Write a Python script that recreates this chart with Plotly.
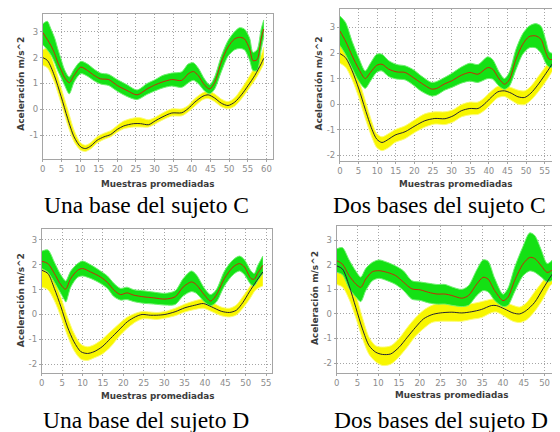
import plotly.graph_objects as go

# ---------------- data ----------------
captions = ["Una base del sujeto C", "Dos bases del sujeto C",
            "Una base del sujeto D", "Dos bases del sujeto D"]
x_title = "Muestras promediadas"
y_title = "Aceleración m/s^2"

# Panel 1: Una base del sujeto C
p1_gx = [0, 1.2, 2.2, 3.2, 4, 5, 5.8, 7.1, 8.4, 10.2, 12, 13.8, 15.5, 17.7, 20, 22.6, 25.3, 28, 30.2, 32,
         34.6, 37.3, 39, 40.4, 41.7, 43.5, 44.8, 46.1, 47.9, 49.7, 51.5, 52.8, 54.1, 55.5, 56.4, 57.5, 58.6, 59.3]
p1_g_mean = [2.97, 2.7, 2.46, 2.15, 1.82, 1.5, 1.24, 1.03, 1.31, 1.63, 1.5, 1.31, 1.18, 1.15, 0.92, 0.73, 0.56, 0.79,
             0.95, 1.05, 1.15, 1.12, 1.37, 1.46, 1.31, 0.92, 0.79, 1.03, 1.82, 2.4, 2.72, 2.78, 2.72, 2.33, 1.88,
             1.92, 2.72, 3.1]
p1_g_hi = [3.3, 3.4, 3.1, 2.75, 2.35, 1.9, 1.55, 1.25, 1.55, 1.85, 1.75, 1.55, 1.4, 1.35, 1.15, 0.95, 0.75, 1.0,
           1.15, 1.3, 1.4, 1.45, 1.75, 1.8, 1.6, 1.15, 0.95, 1.25, 2.05, 2.65, 3.0, 3.15, 3.1, 2.75, 2.2, 2.3,
           3.1, 3.45]
p1_g_lo = [2.5, 2.3, 2.1, 1.8, 1.5, 1.2, 0.95, 0.6, 1.05, 1.38, 1.28, 1.1, 0.98, 0.92, 0.7, 0.5, 0.38, 0.58, 0.72,
           0.82, 0.9, 0.85, 1.02, 1.12, 1.0, 0.7, 0.6, 0.78, 1.45, 2.05, 2.3, 2.35, 2.3, 1.9, 1.5, 1.5, 2.3, 2.8]
p1_yx = [0, 1.3, 3.1, 4.9, 6.7, 8.4, 10.2, 11.5, 12.9, 14.6, 16.4, 18.2, 20, 21.7, 24.4, 26.2, 28.4, 30.2, 32,
         34.6, 37.3, 39, 40.8, 43, 44.4, 46.1, 47.9, 49.7, 51.5, 53.3, 55.1, 56.9, 58.6, 59.3]
p1_y_mean = [2.0, 1.88, 1.31, 0.51, -0.36, -1.06, -1.45, -1.51, -1.41, -1.19, -1.06, -0.97, -0.77, -0.64, -0.55,
             -0.55, -0.59, -0.44, -0.3, -0.14, -0.13, 0.03, 0.28, 0.51, 0.56, 0.44, 0.24, 0.15, 0.28, 0.56, 0.92,
             1.31, 1.76, 1.97]
p1_y_hi = [2.3, 2.35, 1.7, 0.85, 0.0, -0.8, -1.3, -1.38, -1.28, -1.05, -0.92, -0.82, -0.62, -0.45, -0.33, -0.32,
           -0.4, -0.3, -0.15, 0.02, 0.02, 0.15, 0.42, 0.65, 0.72, 0.6, 0.4, 0.3, 0.45, 0.8, 1.2, 1.65, 2.1, 2.4]
p1_y_lo = [1.7, 1.6, 1.05, 0.25, -0.6, -1.25, -1.58, -1.62, -1.52, -1.3, -1.16, -1.06, -0.88, -0.75, -0.68, -0.68,
           -0.68, -0.56, -0.42, -0.26, -0.25, -0.1, 0.12, 0.38, 0.42, 0.3, 0.1, 0.02, 0.12, 0.4, 0.75, 1.12, 1.55,
           1.75]

# Panel 2: Dos bases del sujeto C
p2_gx = [0, 1.5, 3.3, 5.1, 6.8, 8.2, 9.9, 11.3, 13.1, 15.3, 17.5, 19.7, 21.9, 24.6, 25.9, 28.2, 30, 32.6, 34.9,
         37.1, 39.7, 41, 42.8, 44.2, 45.5, 47.3, 49.1, 50.8, 52.6, 54, 55.3, 56.2, 57.1, 58.4, 59.3]
p2_g_mean = [2.86, 2.47, 1.89, 1.37, 1.0, 1.24, 1.52, 1.56, 1.37, 1.26, 1.24, 1.04, 0.82, 0.59, 0.61, 0.8, 0.91,
             1.13, 1.24, 1.17, 1.43, 1.37, 0.98, 0.78, 0.95, 1.76, 2.34, 2.64, 2.67, 2.54, 2.02, 1.76, 1.76, 2.67,
             3.1]
p2_g_hi = [3.45, 3.2, 2.45, 1.8, 1.3, 1.6, 1.95, 1.95, 1.7, 1.55, 1.5, 1.35, 1.1, 0.85, 0.88, 1.05, 1.2, 1.45, 1.6,
           1.55, 1.85, 1.75, 1.25, 1.0, 1.25, 2.15, 2.75, 3.05, 3.15, 3.05, 2.5, 2.05, 2.0, 3.0, 3.45]
p2_g_lo = [2.3, 1.95, 1.4, 0.9, 0.62, 0.9, 1.25, 1.3, 1.08, 0.98, 0.95, 0.75, 0.5, 0.32, 0.35, 0.55, 0.65, 0.82,
           0.9, 0.85, 1.0, 0.98, 0.7, 0.58, 0.7, 1.35, 1.95, 2.2, 2.2, 2.0, 1.6, 1.45, 1.45, 2.3, 2.7]
p2_yx = [0, 1.5, 3.3, 5.1, 6.8, 8.6, 9.9, 11.3, 13.1, 14.8, 17.5, 20.2, 22.8, 25.5, 28.2, 30.4, 32.6, 34.9, 37.1,
         38.8, 40.6, 42.4, 44.2, 46, 47.8, 49.6, 51.3, 53.1, 54.9, 56.7, 58.9]
p2_y_mean = [1.98, 1.82, 1.3, 0.59, -0.2, -0.98, -1.37, -1.5, -1.37, -1.21, -1.08, -0.85, -0.65, -0.56, -0.57,
             -0.46, -0.26, -0.17, -0.17, 0.0, 0.26, 0.48, 0.52, 0.43, 0.29, 0.26, 0.43, 0.74, 1.11, 1.5, 2.02]
p2_y_hi = [2.35, 2.3, 1.75, 0.95, 0.15, -0.7, -1.15, -1.28, -1.15, -1.0, -0.85, -0.6, -0.38, -0.3, -0.3, -0.22,
           -0.02, 0.08, 0.08, 0.25, 0.5, 0.7, 0.72, 0.65, 0.55, 0.52, 0.7, 1.05, 1.4, 1.8, 2.3]
p2_y_lo = [1.6, 1.45, 0.95, 0.25, -0.55, -1.3, -1.7, -1.82, -1.7, -1.5, -1.35, -1.1, -0.9, -0.78, -0.8, -0.7,
           -0.5, -0.42, -0.4, -0.25, 0.0, 0.25, 0.3, 0.15, 0.0, -0.02, 0.15, 0.45, 0.8, 1.2, 1.7]

# Panel 3: Una base del sujeto D
p3_gx = [0, 1.5, 3.1, 4.3, 5.5, 5.9, 7.1, 8.8, 10, 12, 14.4, 16.1, 17.7, 19.3, 20.9, 22.5, 25, 27.4, 30.2, 32.7,
         34.7, 36.7, 37.9, 39.9, 41.4, 42.8, 44.8, 46.9, 48.5, 49.7, 51.3, 52.1, 52.9, 54.2]
p3_g_mean = [2.14, 2.05, 1.65, 1.29, 1.04, 1.02, 1.45, 1.78, 1.85, 1.71, 1.51, 1.29, 0.98, 0.8, 0.87, 0.78, 0.71,
             0.67, 0.62, 0.71, 1.11, 1.31, 1.2, 0.78, 0.54, 0.78, 1.45, 1.91, 2.05, 1.91, 1.45, 1.42, 1.65, 1.98]
p3_g_hi = [2.55, 2.6, 2.1, 1.7, 1.4, 1.35, 1.75, 2.05, 2.15, 2.0, 1.75, 1.55, 1.25, 1.05, 1.1, 1.0, 0.95, 0.9,
           0.85, 0.95, 1.45, 1.75, 1.6, 1.05, 0.8, 1.0, 1.75, 2.2, 2.35, 2.2, 1.75, 1.65, 1.95, 2.35]
p3_g_lo = [1.85, 1.7, 1.3, 0.95, 0.6, 0.5, 1.1, 1.5, 1.55, 1.45, 1.25, 1.05, 0.72, 0.58, 0.6, 0.52, 0.45, 0.42,
           0.38, 0.4, 0.75, 0.92, 0.85, 0.5, 0.35, 0.5, 1.15, 1.6, 1.75, 1.6, 1.2, 1.15, 1.35, 1.65]
p3_yx = [0, 1.5, 3.1, 4.7, 6.3, 7.9, 9.6, 11.2, 12.8, 14.8, 16.9, 18.9, 21, 23, 24.6, 26.6, 28.2, 30.2, 32.7,
         35.1, 37.5, 39.6, 41.6, 44, 46, 47.7, 49.3, 50.9, 52.5, 54.2]
p3_y_mean = [1.78, 1.65, 1.04, 0.31, -0.5, -1.1, -1.5, -1.57, -1.5, -1.3, -0.96, -0.63, -0.29, -0.09, 0.0, -0.03,
             -0.03, 0.0, 0.11, 0.27, 0.37, 0.44, 0.31, 0.13, 0.08, 0.17, 0.48, 0.91, 1.31, 1.71]
p3_y_hi = [1.95, 1.9, 1.4, 0.7, -0.1, -0.75, -1.2, -1.3, -1.22, -1.0, -0.68, -0.38, -0.1, 0.05, 0.12, 0.1, 0.08,
           0.12, 0.25, 0.42, 0.55, 0.62, 0.5, 0.3, 0.25, 0.38, 0.72, 1.1, 1.5, 1.95]
p3_y_lo = [1.1, 1.0, 0.55, -0.1, -0.85, -1.45, -1.8, -1.85, -1.75, -1.6, -1.3, -0.9, -0.55, -0.3, -0.18, -0.18,
           -0.2, -0.15, -0.05, 0.1, 0.2, 0.25, 0.12, -0.05, -0.1, -0.02, 0.25, 0.6, 1.0, 1.15]

# Panel 4: Dos bases del sujeto D
p4_gx = [0, 1.4, 3, 4.6, 5.8, 7, 8.6, 10.2, 12.2, 14.2, 16.1, 18.1, 20.1, 22.1, 24.1, 26.1, 27.7, 30.1, 31.7, 33.7,
         35.2, 36.4, 38, 40, 41.2, 42.8, 44.8, 46.4, 47.6, 49.2, 50.6, 51.6, 53.2, 54.5]
p4_g_mean = [2.17, 2.03, 1.56, 1.22, 1.08, 1.42, 1.72, 1.76, 1.69, 1.56, 1.29, 1.02, 0.98, 0.88, 0.81, 0.81, 0.75,
             0.64, 0.75, 1.22, 1.49, 1.42, 0.95, 0.54, 0.68, 1.36, 2.03, 2.3, 2.26, 1.96, 1.69, 1.76, 2.1, 2.3]
p4_g_hi = [2.65, 2.7, 2.2, 1.75, 1.5, 1.85, 2.1, 2.2, 2.1, 1.95, 1.75, 1.35, 1.3, 1.25, 1.2, 1.2, 1.1, 1.0, 1.15,
           1.8, 2.2, 2.15, 1.45, 0.8, 1.05, 1.9, 2.75, 3.3, 3.2, 2.6, 2.05, 2.15, 2.5, 2.6]
p4_g_lo = [1.7, 1.6, 1.05, 0.7, 0.5, 0.95, 1.35, 1.45, 1.35, 1.2, 0.95, 0.6, 0.55, 0.45, 0.4, 0.4, 0.35, 0.3, 0.35,
           0.75, 0.95, 0.9, 0.55, 0.3, 0.35, 0.9, 1.55, 1.75, 1.7, 1.5, 1.3, 1.35, 1.6, 1.8]
p4_yx = [0, 1.4, 3, 4.6, 6.2, 7.8, 9.4, 11, 13, 15, 17, 19, 20.9, 22.9, 24.9, 27.7, 30.1, 32.5, 34.8, 37.2, 38.4,
         40.4, 42.4, 44, 45.6, 47.6, 49.6, 51.6, 53.2, 54.5]
p4_y_mean = [1.96, 1.83, 1.15, 0.27, -0.61, -1.29, -1.56, -1.65, -1.63, -1.36, -0.95, -0.54, -0.2, -0.03, 0.04,
             0.07, 0.04, 0.09, 0.18, 0.34, 0.34, 0.2, 0.04, 0.0, 0.14, 0.47, 1.02, 1.56, 1.9, 2.05]
p4_y_hi = [2.3, 2.25, 1.65, 0.8, -0.15, -0.95, -1.3, -1.35, -1.3, -1.0, -0.55, -0.15, 0.15, 0.35, 0.45, 0.45, 0.4,
           0.42, 0.5, 0.6, 0.62, 0.5, 0.35, 0.28, 0.45, 0.9, 1.35, 1.9, 2.45, 2.5]
p4_y_lo = [1.2, 1.1, 0.6, -0.15, -1.0, -1.65, -1.95, -2.1, -2.05, -1.75, -1.35, -0.9, -0.6, -0.35, -0.3, -0.3,
           -0.3, -0.22, -0.15, 0.05, 0.08, -0.1, -0.3, -0.35, -0.25, 0.1, 0.6, 1.2, 1.3, 1.45]

x_tick_vals = [0, 5, 10, 15, 20, 25, 30, 35, 40, 45, 50, 55, 60]
x_tick_text = ["0", "5", "10", "15", "20", "25", "30", "35", "40", "45", "50", "55", "60"]
y_tick_vals = [-2, -1, 0, 1, 2, 3]
y_tick_text = ["-2", "-1", "0", "1", "2", "3"]

# ---------------- layout geometry (window pixels) ----------------
OFF = 8            # the page body has an 8 px margin
W, H = 560 - OFF, 432 - OFF
panels = [
    dict(g=(p1_gx, p1_g_mean, p1_g_hi, p1_g_lo), y=(p1_yx, p1_y_mean, p1_y_hi, p1_y_lo),
         box=(40, 272, 13, 158), xr=[0, 61.8], yr=[-1.9, 3.68], cap=(144, 204), xt=(156, 183), yt=(18, 83)),
    dict(g=(p2_gx, p2_g_mean, p2_g_hi, p2_g_lo), y=(p2_yx, p2_y_mean, p2_y_hi, p2_y_lo),
         box=(339.3, 560, 8.3, 160), xr=[0, 58.85], yr=[-2.21, 3.71], cap=(440, 204), xt=(456, 183), yt=(318, 83)),
    dict(g=(p3_gx, p3_g_mean, p3_g_hi, p3_g_lo), y=(p3_yx, p3_y_mean, p3_y_hi, p3_y_lo),
         box=(39, 270.7, 228.3, 372.7), xr=[0, 56.4], yr=[-2.35, 3.45], cap=(144, 420), xt=(156, 396), yt=(18, 300)),
    dict(g=(p4_gx, p4_g_mean, p4_g_hi, p4_g_lo), y=(p4_yx, p4_y_mean, p4_y_hi, p4_y_lo),
         box=(336, 560, 225.3, 372.7), xr=[0, 53.46], yr=[-2.4, 3.59], cap=(441, 420), xt=(452, 395), yt=(315, 298)),
]


def px_x(v):
    return (v - OFF) / W


def px_y(v):
    return 1 - (v - OFF) / H


GREEN_FILL = "rgb(20,225,20)"
GREEN_EDGE = "rgb(110,240,110)"
YELLOW_FILL = "rgb(248,246,0)"
YELLOW_EDGE = "rgb(252,252,120)"
RED = "rgb(200,40,10)"
DARK = "rgb(35,35,50)"

fig = go.Figure()
layout = dict(width=W, height=H, margin=dict(l=0, r=0, t=0, b=0), paper_bgcolor="white",
              plot_bgcolor="white", showlegend=False)
annotations = []


def band(xs, hi, lo, fill, edge, xa, ya):
    fig.add_trace(go.Scatter(x=xs, y=lo, mode="lines", line=dict(color=edge, width=1, shape="spline", smoothing=0.8),
                             xaxis=xa, yaxis=ya, hoverinfo="skip"))
    fig.add_trace(go.Scatter(x=xs, y=hi, mode="lines", line=dict(color=edge, width=1, shape="spline", smoothing=0.8),
                             fill="tonexty", fillcolor=fill, xaxis=xa, yaxis=ya, hoverinfo="skip"))


for i, p in enumerate(panels, start=1):
    xa = "x" if i == 1 else f"x{i}"
    ya = "y" if i == 1 else f"y{i}"
    yx, ym, yh, yl = p["y"]
    gx, gm, gh, gl = p["g"]
    band(yx, yh, yl, YELLOW_FILL, YELLOW_EDGE, xa, ya)
    band(gx, gh, gl, GREEN_FILL, GREEN_EDGE, xa, ya)
    fig.add_trace(go.Scatter(x=gx, y=gm, mode="lines", line=dict(color=RED, width=1, shape="spline", smoothing=0.8),
                             xaxis=xa, yaxis=ya))
    fig.add_trace(go.Scatter(x=yx, y=ym, mode="lines", line=dict(color=DARK, width=1, shape="spline", smoothing=0.8),
                             xaxis=xa, yaxis=ya))

    l, r, t, b = p["box"]
    axcommon = dict(showgrid=True, gridcolor="rgb(165,165,165)", griddash="1px,2px", gridwidth=1,
                    showline=True, mirror=True, linecolor="rgb(165,165,165)", linewidth=1,
                    zeroline=False, ticks="outside", ticklen=2, tickcolor="rgb(165,165,165)",
                    tickfont=dict(family="DejaVu Sans", size=8.5, color="rgb(140,140,140)"),
                    tickmode="array", fixedrange=True)
    layout["xaxis" if i == 1 else f"xaxis{i}"] = dict(
        axcommon, domain=[max(0, px_x(l)), min(1, px_x(r))], range=p["xr"], anchor=ya,
        tickvals=x_tick_vals, ticktext=x_tick_text)
    layout["yaxis" if i == 1 else f"yaxis{i}"] = dict(
        axcommon, domain=[max(0, px_y(b)), min(1, px_y(t))], range=p["yr"], anchor=xa,
        tickvals=y_tick_vals, ticktext=y_tick_text)

    cx, cy = p["cap"]
    annotations.append(dict(text=captions[i - 1], x=px_x(cx), y=px_y(cy), xref="paper", yref="paper",
                            showarrow=False, xanchor="center", yanchor="middle",
                            font=dict(family="Liberation Serif", size=23.5, color="black")))
    tx, ty = p["xt"]
    annotations.append(dict(text=f"<b>{x_title}</b>", x=px_x(tx), y=px_y(ty), xref="paper", yref="paper",
                            showarrow=False, xanchor="center", yanchor="middle",
                            font=dict(family="DejaVu Sans", size=8.8, color="rgb(60,60,60)")))
    vx, vy = p["yt"]
    annotations.append(dict(text=f"<b>{y_title}</b>", x=px_x(vx), y=px_y(vy), xref="paper", yref="paper",
                            showarrow=False, xanchor="center", yanchor="middle", textangle=-90,
                            font=dict(family="DejaVu Sans", size=9, color="rgb(60,60,60)")))

layout["annotations"] = annotations
fig.update_layout(**layout)
fig.write_html("out.html", config={"displayModeBar": False})
